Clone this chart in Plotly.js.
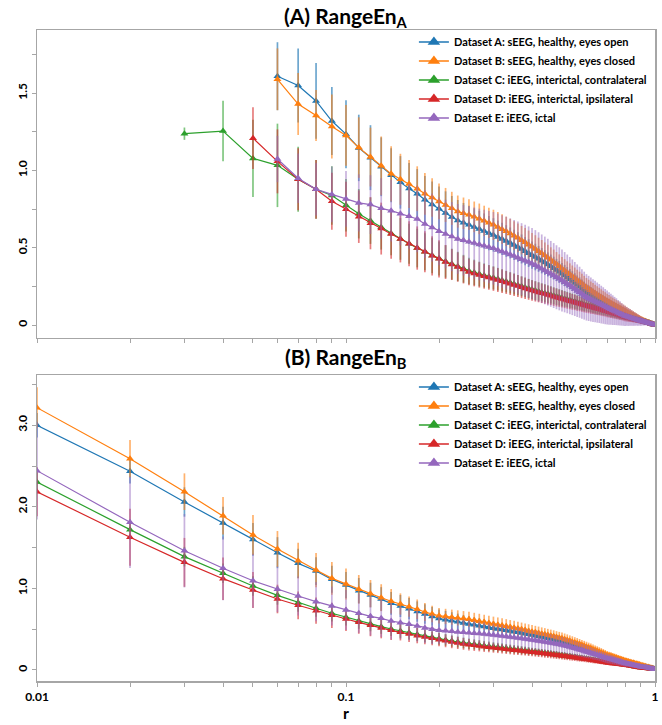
<!DOCTYPE html>
<html><head><meta charset="utf-8">
<script src="https://cdn.plot.ly/plotly-3.0.1.min.js"></script>
<style>html,body{margin:0;padding:0;background:#fff}</style>
</head><body><div id="chart" style="width:662px;height:725px"></div>
<script>
const r = [0.01,0.02,0.03,0.04,0.05,0.06,0.07,0.08,0.09,0.10,
0.11,0.12,0.13,0.14,0.15,0.16,0.17,0.18,0.19,0.20,
0.21,0.22,0.23,0.24,0.25,0.26,0.27,0.28,0.29,0.30,
0.31,0.32,0.33,0.34,0.35,0.36,0.37,0.38,0.39,0.40,
0.41,0.42,0.43,0.44,0.45,0.46,0.47,0.48,0.49,0.50,
0.51,0.52,0.53,0.54,0.55,0.56,0.57,0.58,0.59,0.60,
0.61,0.62,0.63,0.64,0.65,0.66,0.67,0.68,0.69,0.70,
0.71,0.72,0.73,0.74,0.75,0.76,0.77,0.78,0.79,0.80,
0.81,0.82,0.83,0.84,0.85,0.86,0.87,0.88,0.89,0.90,
0.91,0.92,0.93,0.94,0.95,0.96,0.97,0.98,0.99,1.00];

const names = ["Dataset A: sEEG, healthy, eyes open","Dataset B: sEEG, healthy, eyes closed","Dataset C: iEEG, interictal, contralateral","Dataset D: iEEG, interictal, ipsilateral","Dataset E: iEEG, ictal"];
const colors = ["#1f77b4","#ff7f0e","#2ca02c","#d62728","#9467bd"];
const errColors = ["rgba(31,119,180,0.65)","rgba(255,127,14,0.6)","rgba(44,160,44,0.6)","rgba(214,39,40,0.6)","rgba(148,103,189,0.5)"];

const panelTitles = ["(A) RangeEn<sub>A</sub>","(B) RangeEn<sub>B</sub>"];
const xAxisTitle = "r";
const xTickVals = [0.01,0.1,1];
const xTickText = ["0.01","0.1","1"];
const xMinorVals = [0.02,0.03,0.04,0.05,0.06,0.07,0.08,0.09,0.2,0.3,0.4,0.5,0.6,0.7,0.8,0.9];
const yTopTickVals = [0,0.5,1,1.5];
const yTopTickText = ["0","0.5","1.0","1.5"];
const yTopMinorVals = [0.25,0.75,1.25,1.75];
const yBotTickVals = [0,1,2,3];
const yBotTickText = ["0","1.0","2.0","3.0"];
const yBotMinorVals = [0.5,1.5,2.5,3.5];

// Panel A: RangeEn_A
const enA_A = [null,null,null,null,null,1.61,1.55,1.45,1.32,1.235,
1.146,1.083,1.024,0.969,0.923,0.884,0.849,0.810,0.779,0.752,
0.725,0.699,0.677,0.662,0.648,0.635,0.622,0.608,0.595,0.583,
0.570,0.557,0.544,0.531,0.518,0.505,0.492,0.478,0.465,0.452,
0.440,0.428,0.416,0.404,0.392,0.380,0.368,0.356,0.344,0.332,
0.320,0.308,0.296,0.284,0.272,0.260,0.248,0.236,0.224,0.212,
0.203,0.194,0.185,0.177,0.169,0.161,0.153,0.145,0.138,0.131,
0.125,0.119,0.113,0.107,0.101,0.096,0.090,0.085,0.079,0.074,
0.070,0.065,0.061,0.057,0.052,0.048,0.044,0.039,0.035,0.031,
0.028,0.025,0.022,0.019,0.016,0.013,0.010,0.007,0.004,0.000];
const enA_A_err = [0,0,0,0,0,0.22,0.24,0.245,0.22,0.22,
0.215,0.21,0.19,0.175,0.17,0.165,0.16,0.155,0.15,0.145,
0.14,0.136,0.132,0.128,0.124,0.12,0.117,0.114,0.111,0.108,
0.106,0.104,0.102,0.100,0.098,0.096,0.094,0.092,0.090,0.088,
0.086,0.084,0.082,0.080,0.078,0.076,0.074,0.072,0.071,0.070,
0.069,0.067,0.066,0.064,0.063,0.061,0.060,0.058,0.057,0.055,
0.054,0.052,0.051,0.049,0.048,0.046,0.045,0.043,0.042,0.040,
0.039,0.038,0.036,0.035,0.034,0.033,0.031,0.030,0.029,0.028,
0.027,0.025,0.024,0.022,0.021,0.020,0.018,0.017,0.016,0.015,
0.014,0.012,0.011,0.010,0.009,0.007,0.006,0.005,0.003,0.002];

const enA_B = [null,null,null,null,null,1.59,1.43,1.356,1.284,1.227,
1.148,1.087,1.030,0.978,0.943,0.912,0.882,0.849,0.825,0.800,
0.777,0.755,0.734,0.723,0.714,0.700,0.687,0.674,0.661,0.648,
0.634,0.620,0.606,0.592,0.578,0.564,0.549,0.535,0.520,0.506,
0.492,0.478,0.464,0.450,0.436,0.422,0.408,0.394,0.380,0.365,
0.352,0.340,0.328,0.316,0.304,0.292,0.280,0.268,0.256,0.244,
0.234,0.225,0.216,0.207,0.198,0.190,0.181,0.173,0.165,0.157,
0.150,0.143,0.136,0.129,0.123,0.117,0.110,0.104,0.098,0.092,
0.086,0.080,0.075,0.069,0.064,0.058,0.053,0.047,0.042,0.037,
0.033,0.029,0.025,0.021,0.017,0.014,0.010,0.007,0.003,0.000];
const enA_B_err = [0,0,0,0,0,0.20,0.20,0.165,0.207,0.196,
0.196,0.19,0.19,0.178,0.165,0.155,0.145,0.135,0.125,0.115,
0.11,0.107,0.104,0.102,0.100,0.099,0.099,0.098,0.098,0.098,
0.097,0.096,0.095,0.095,0.094,0.093,0.092,0.092,0.091,0.090,
0.089,0.087,0.086,0.084,0.083,0.081,0.080,0.078,0.077,0.075,
0.074,0.072,0.071,0.069,0.068,0.066,0.065,0.063,0.062,0.060,
0.059,0.057,0.056,0.054,0.053,0.051,0.050,0.048,0.047,0.045,
0.044,0.042,0.041,0.040,0.038,0.037,0.036,0.035,0.033,0.032,
0.031,0.029,0.028,0.027,0.025,0.024,0.022,0.021,0.019,0.018,
0.017,0.015,0.014,0.012,0.011,0.009,0.008,0.006,0.005,0.003];

const enA_C = [null,null,1.238,1.255,1.078,1.033,0.943,0.878,0.838,0.775,
0.720,0.675,0.633,0.592,0.557,0.526,0.498,0.474,0.450,0.430,
0.411,0.394,0.379,0.364,0.349,0.340,0.330,0.321,0.313,0.305,
0.297,0.289,0.281,0.273,0.265,0.258,0.250,0.243,0.236,0.229,
0.223,0.217,0.211,0.206,0.200,0.195,0.189,0.184,0.179,0.174,
0.169,0.165,0.160,0.156,0.151,0.146,0.142,0.138,0.133,0.129,
0.125,0.121,0.117,0.113,0.109,0.105,0.101,0.097,0.094,0.090,
0.086,0.082,0.079,0.075,0.071,0.068,0.064,0.061,0.057,0.054,
0.051,0.048,0.045,0.042,0.039,0.037,0.034,0.031,0.029,0.026,
0.024,0.021,0.019,0.016,0.013,0.011,0.008,0.005,0.003,0.000];
const enA_C_err = [0,0,0.04,0.196,0.25,0.27,0.21,0.19,0.19,0.17,
0.16,0.15,0.145,0.14,0.135,0.13,0.125,0.12,0.115,0.11,
0.105,0.1,0.095,0.09,0.086,0.083,0.08,0.078,0.076,0.075,
0.073,0.072,0.07,0.069,0.068,0.066,0.065,0.064,0.063,0.062,
0.061,0.06,0.059,0.058,0.057,0.056,0.055,0.054,0.053,0.052,
0.051,0.05,0.049,0.048,0.047,0.046,0.045,0.044,0.043,0.042,
0.041,0.04,0.039,0.038,0.037,0.036,0.035,0.034,0.033,0.032,
0.031,0.03,0.029,0.028,0.027,0.026,0.025,0.024,0.023,0.022,
0.021,0.02,0.019,0.018,0.017,0.016,0.015,0.014,0.013,0.012,
0.011,0.01,0.009,0.008,0.007,0.006,0.005,0.004,0.003,0.002];

const enA_D = [null,null,null,null,1.209,1.059,0.943,0.878,0.801,0.749,
0.701,0.659,0.624,0.589,0.557,0.526,0.498,0.474,0.448,0.428,
0.408,0.391,0.375,0.359,0.343,0.334,0.324,0.315,0.307,0.299,
0.291,0.283,0.275,0.267,0.259,0.252,0.244,0.237,0.230,0.223,
0.217,0.211,0.205,0.200,0.194,0.189,0.183,0.178,0.173,0.168,
0.163,0.159,0.154,0.150,0.146,0.141,0.137,0.133,0.128,0.124,
0.120,0.116,0.113,0.109,0.105,0.102,0.098,0.094,0.091,0.087,
0.083,0.080,0.076,0.073,0.069,0.066,0.062,0.059,0.055,0.052,
0.049,0.046,0.043,0.041,0.038,0.036,0.033,0.031,0.028,0.026,
0.023,0.021,0.018,0.016,0.013,0.011,0.008,0.005,0.003,0.000];
const enA_D_err = [0,0,0,0,0.2,0.207,0.2,0.19,0.185,0.178,
0.17,0.169,0.168,0.16,0.152,0.145,0.14,0.133,0.127,0.12,
0.11,0.1,0.095,0.09,0.086,0.084,0.082,0.08,0.079,0.078,
0.077,0.076,0.074,0.073,0.072,0.071,0.07,0.069,0.067,0.066,
0.065,0.064,0.063,0.062,0.061,0.06,0.059,0.058,0.056,0.055,
0.054,0.053,0.052,0.051,0.05,0.049,0.048,0.047,0.046,0.045,
0.044,0.043,0.042,0.041,0.04,0.039,0.038,0.037,0.036,0.036,
0.035,0.034,0.033,0.032,0.031,0.03,0.029,0.028,0.027,0.027,
0.026,0.025,0.024,0.022,0.021,0.02,0.019,0.018,0.017,0.016,
0.015,0.013,0.012,0.011,0.01,0.008,0.007,0.006,0.004,0.003];

const enA_E = [null,null,null,null,null,1.074,0.950,0.878,0.845,0.816,
0.790,0.779,0.755,0.740,0.720,0.703,0.686,0.653,0.631,0.607,
0.589,0.572,0.557,0.548,0.539,0.530,0.521,0.513,0.504,0.496,
0.486,0.476,0.466,0.456,0.446,0.436,0.426,0.416,0.407,0.397,
0.386,0.375,0.364,0.353,0.342,0.331,0.320,0.309,0.299,0.288,
0.277,0.266,0.255,0.244,0.233,0.222,0.212,0.201,0.190,0.179,
0.172,0.165,0.158,0.152,0.145,0.139,0.132,0.126,0.119,0.113,
0.107,0.102,0.096,0.091,0.086,0.080,0.075,0.069,0.064,0.059,
0.056,0.052,0.049,0.046,0.042,0.039,0.036,0.033,0.029,0.026,
0.024,0.021,0.019,0.016,0.013,0.011,0.008,0.005,0.003,0.000];
const enA_E_err = [0,0,0,0,0,0.15,0.16,0.17,0.18,0.18,
0.185,0.19,0.195,0.2,0.205,0.21,0.215,0.22,0.22,0.22,
0.222,0.224,0.226,0.228,0.23,0.231,0.232,0.233,0.234,0.235,
0.235,0.235,0.235,0.234,0.234,0.233,0.233,0.232,0.231,0.23,
0.228,0.225,0.222,0.219,0.216,0.213,0.21,0.207,0.204,0.2,
0.195,0.19,0.185,0.18,0.175,0.17,0.165,0.16,0.155,0.15,
0.146,0.142,0.138,0.134,0.13,0.126,0.122,0.118,0.114,0.11,
0.105,0.1,0.096,0.091,0.087,0.082,0.078,0.073,0.069,0.065,
0.061,0.058,0.054,0.051,0.047,0.044,0.04,0.037,0.033,0.03,
0.027,0.024,0.021,0.019,0.016,0.013,0.011,0.008,0.006,0.005];

// Panel B: RangeEn_B
const enB_A = [3.00,2.435,2.059,1.80,1.60,1.438,1.307,1.213,1.111,1.042,
0.972,0.919,0.870,0.817,0.784,0.751,0.716,0.686,0.656,0.630,
0.617,0.604,0.590,0.577,0.564,0.553,0.542,0.532,0.521,0.511,
0.503,0.495,0.487,0.478,0.470,0.462,0.454,0.445,0.437,0.429,
0.421,0.413,0.404,0.396,0.388,0.380,0.372,0.363,0.355,0.347,
0.337,0.327,0.317,0.306,0.296,0.286,0.276,0.265,0.255,0.245,
0.237,0.229,0.220,0.212,0.204,0.196,0.188,0.179,0.171,0.163,
0.157,0.151,0.145,0.139,0.133,0.126,0.120,0.114,0.108,0.102,
0.097,0.091,0.086,0.081,0.076,0.070,0.065,0.060,0.054,0.049,
0.045,0.041,0.037,0.033,0.029,0.025,0.021,0.017,0.013,0.010];
const enB_A_err = [0.15,0.15,0.18,0.2,0.2,0.19,0.18,0.17,0.165,0.16,
0.155,0.15,0.145,0.14,0.135,0.13,0.125,0.12,0.115,0.11,
0.107,0.104,0.101,0.098,0.095,0.093,0.091,0.089,0.087,0.085,
0.084,0.083,0.081,0.080,0.079,0.077,0.076,0.075,0.073,0.072,
0.071,0.070,0.069,0.068,0.067,0.065,0.064,0.063,0.062,0.060,
0.059,0.058,0.057,0.056,0.055,0.053,0.052,0.051,0.050,0.049,
0.048,0.047,0.046,0.045,0.044,0.043,0.042,0.041,0.040,0.040,
0.039,0.038,0.037,0.036,0.035,0.034,0.033,0.032,0.031,0.030,
0.029,0.028,0.027,0.026,0.025,0.024,0.023,0.022,0.021,0.020,
0.019,0.017,0.016,0.014,0.013,0.011,0.010,0.008,0.007,0.005];

const enB_B = [3.215,2.59,2.185,1.891,1.654,1.483,1.340,1.225,1.123,1.054,
0.989,0.935,0.886,0.842,0.809,0.776,0.744,0.711,0.686,0.665,
0.656,0.647,0.638,0.630,0.621,0.610,0.598,0.587,0.575,0.564,
0.555,0.545,0.536,0.526,0.517,0.508,0.498,0.489,0.479,0.470,
0.462,0.454,0.445,0.437,0.429,0.421,0.413,0.404,0.396,0.388,
0.378,0.368,0.357,0.347,0.337,0.327,0.317,0.306,0.296,0.286,
0.276,0.266,0.255,0.245,0.235,0.225,0.215,0.204,0.194,0.184,
0.177,0.170,0.163,0.156,0.149,0.142,0.135,0.128,0.121,0.114,
0.109,0.103,0.098,0.093,0.088,0.082,0.077,0.072,0.066,0.061,
0.056,0.051,0.046,0.041,0.036,0.031,0.026,0.020,0.015,0.010];
const enB_B_err = [0.25,0.23,0.225,0.23,0.245,0.22,0.22,0.21,0.2,0.19,
0.175,0.168,0.165,0.15,0.13,0.125,0.12,0.11,0.1,0.095,
0.094,0.093,0.093,0.092,0.092,0.091,0.091,0.09,0.09,0.09,
0.089,0.088,0.087,0.086,0.085,0.084,0.083,0.082,0.081,0.080,
0.079,0.078,0.077,0.076,0.075,0.074,0.073,0.072,0.071,0.070,
0.069,0.068,0.067,0.066,0.065,0.064,0.063,0.062,0.061,0.060,
0.059,0.058,0.057,0.056,0.055,0.054,0.053,0.052,0.051,0.050,
0.048,0.047,0.045,0.044,0.042,0.041,0.039,0.038,0.036,0.035,
0.034,0.032,0.031,0.030,0.028,0.027,0.026,0.025,0.024,0.022,
0.021,0.019,0.018,0.016,0.014,0.012,0.010,0.008,0.007,0.005];

const enB_C = [2.304,1.72,1.389,1.185,1.029,0.915,0.825,0.756,0.695,0.646,
0.600,0.564,0.531,0.502,0.478,0.455,0.435,0.417,0.400,0.384,
0.369,0.355,0.343,0.332,0.322,0.314,0.306,0.298,0.291,0.284,
0.278,0.272,0.265,0.259,0.254,0.248,0.243,0.238,0.232,0.227,
0.222,0.218,0.213,0.208,0.204,0.199,0.194,0.189,0.185,0.180,
0.176,0.171,0.167,0.163,0.159,0.154,0.150,0.145,0.141,0.137,
0.133,0.128,0.124,0.120,0.116,0.111,0.107,0.103,0.099,0.095,
0.091,0.088,0.085,0.082,0.079,0.076,0.073,0.070,0.067,0.064,
0.061,0.057,0.054,0.050,0.047,0.044,0.040,0.037,0.033,0.030,
0.028,0.026,0.024,0.022,0.020,0.017,0.015,0.013,0.011,0.009];
const enB_C_err = [0.12,0.12,0.12,0.12,0.12,0.115,0.11,0.105,0.1,0.1,
0.095,0.09,0.088,0.086,0.084,0.082,0.08,0.078,0.076,0.074,
0.072,0.07,0.068,0.066,0.064,0.062,0.06,0.059,0.058,0.057,
0.056,0.055,0.054,0.053,0.052,0.051,0.05,0.049,0.048,0.047,
0.046,0.045,0.044,0.043,0.042,0.041,0.04,0.039,0.038,0.038,
0.037,0.036,0.035,0.034,0.034,0.033,0.032,0.031,0.030,0.030,
0.029,0.028,0.027,0.026,0.026,0.025,0.024,0.023,0.022,0.022,
0.021,0.020,0.019,0.018,0.018,0.017,0.016,0.015,0.014,0.014,
0.013,0.012,0.011,0.011,0.010,0.009,0.009,0.008,0.007,0.007,
0.006,0.006,0.005,0.005,0.004,0.004,0.003,0.003,0.002,0.002];

const enB_D = [2.185,1.626,1.319,1.119,0.980,0.870,0.793,0.727,0.670,0.625,
0.584,0.547,0.515,0.486,0.462,0.440,0.421,0.404,0.388,0.372,
0.357,0.343,0.331,0.320,0.310,0.302,0.294,0.286,0.279,0.272,
0.266,0.260,0.254,0.248,0.243,0.238,0.233,0.228,0.222,0.217,
0.213,0.208,0.204,0.199,0.195,0.190,0.186,0.181,0.177,0.172,
0.168,0.164,0.160,0.156,0.152,0.147,0.143,0.139,0.135,0.131,
0.127,0.123,0.119,0.115,0.111,0.106,0.102,0.098,0.094,0.090,
0.087,0.084,0.081,0.078,0.075,0.073,0.070,0.067,0.064,0.061,
0.058,0.055,0.051,0.048,0.045,0.041,0.038,0.035,0.031,0.028,
0.026,0.024,0.022,0.020,0.018,0.016,0.014,0.012,0.010,0.008];
const enB_D_err = [0.3,0.35,0.3,0.26,0.22,0.175,0.17,0.16,0.155,0.147,
0.14,0.133,0.127,0.12,0.1,0.097,0.094,0.09,0.085,0.08,
0.078,0.076,0.074,0.072,0.07,0.068,0.066,0.064,0.062,0.06,
0.059,0.058,0.057,0.056,0.055,0.054,0.053,0.052,0.051,0.05,
0.049,0.049,0.048,0.048,0.047,0.047,0.046,0.046,0.045,0.045,
0.044,0.043,0.043,0.042,0.041,0.040,0.040,0.039,0.038,0.037,
0.037,0.036,0.035,0.034,0.034,0.033,0.032,0.031,0.031,0.030,
0.029,0.029,0.028,0.028,0.027,0.026,0.026,0.025,0.025,0.024,
0.023,0.023,0.022,0.021,0.021,0.020,0.019,0.019,0.018,0.018,
0.016,0.015,0.013,0.012,0.010,0.009,0.008,0.006,0.005,0.004];

const enB_E = [2.443,1.81,1.462,1.246,1.094,0.989,0.907,0.837,0.784,0.735,
0.695,0.658,0.633,0.600,0.580,0.560,0.539,0.515,0.500,0.488,
0.481,0.474,0.467,0.462,0.457,0.451,0.446,0.440,0.435,0.429,
0.423,0.417,0.411,0.405,0.399,0.392,0.386,0.380,0.374,0.368,
0.362,0.356,0.349,0.343,0.337,0.331,0.325,0.318,0.312,0.306,
0.298,0.290,0.282,0.274,0.266,0.257,0.249,0.241,0.233,0.225,
0.217,0.209,0.200,0.192,0.184,0.176,0.168,0.159,0.151,0.143,
0.137,0.131,0.125,0.119,0.113,0.106,0.100,0.094,0.088,0.082,
0.078,0.074,0.070,0.066,0.062,0.057,0.053,0.049,0.045,0.041,
0.038,0.035,0.032,0.029,0.026,0.022,0.019,0.016,0.013,0.010];
const enB_E_err = [0.6,0.56,0.45,0.39,0.33,0.28,0.24,0.24,0.24,0.245,
0.24,0.235,0.23,0.225,0.2,0.195,0.19,0.185,0.18,0.17,
0.167,0.164,0.161,0.158,0.155,0.152,0.149,0.146,0.143,0.14,
0.138,0.136,0.134,0.132,0.13,0.128,0.126,0.124,0.122,0.12,
0.118,0.116,0.114,0.112,0.11,0.108,0.106,0.104,0.102,0.1,
0.098,0.096,0.094,0.092,0.09,0.087,0.085,0.082,0.08,0.077,
0.075,0.072,0.07,0.067,0.065,0.063,0.062,0.061,0.06,0.06,
0.058,0.056,0.054,0.052,0.05,0.048,0.046,0.044,0.042,0.04,
0.038,0.036,0.034,0.033,0.032,0.031,0.030,0.030,0.030,0.030,
0.027,0.024,0.021,0.019,0.016,0.013,0.011,0.008,0.006,0.004];

const topSeries = [enA_A, enA_B, enA_C, enA_D, enA_E];
const topErrs = [enA_A_err, enA_B_err, enA_C_err, enA_D_err, enA_E_err];
const botSeries = [enB_A, enB_B, enB_C, enB_D, enB_E];
const botErrs = [enB_A_err, enB_B_err, enB_C_err, enB_D_err, enB_E_err];

function mk(y, err, i, xa, ya) {
  return {
    x: r, y: y, type: 'scatter', mode: 'lines+markers', name: names[i],
    xaxis: xa, yaxis: ya, showlegend: false,
    line: {color: colors[i], width: 1.2},
    marker: {symbol: 'triangle-up', size: 7, color: colors[i]},
    error_y: {type: 'data', array: err, visible: true, color: errColors[i], thickness: 1.7, width: 0}
  };
}
// legend-only entries (no data drawn) so the key can use a larger marker
function key(i, xa, ya, leg) {
  return {
    x: [null], y: [null], type: 'scatter', mode: 'lines+markers', name: names[i],
    xaxis: xa, yaxis: ya, legend: leg, showlegend: true,
    line: {color: colors[i], width: 1.5},
    marker: {symbol: 'triangle-up', size: 11, color: colors[i]}
  };
}
const traces = [];
for (let i = 0; i < 5; i++) traces.push(mk(topSeries[i], topErrs[i], i, 'x', 'y'));
for (let i = 0; i < 5; i++) traces.push(mk(botSeries[i], botErrs[i], i, 'x2', 'y2'));
for (let i = 0; i < 5; i++) traces.push(key(i, 'x', 'y', 'legend'));
for (let i = 0; i < 5; i++) traces.push(key(i, 'x2', 'y2', 'legend2'));

const FONT = 'Lato, "Open Sans", sans-serif';
const GRAY = '#a6a6a6';
const frame = {showline: true, mirror: true, linecolor: GRAY, linewidth: 1.5,
  ticks: 'outside', ticklen: 4, tickcolor: GRAY, tickwidth: 1,
  showgrid: false, zeroline: false};
const minorStyle = {ticks: 'outside', ticklen: 4, tickcolor: GRAY, tickwidth: 1, showgrid: false};
const tickF = {family: FONT, size: 12, color: '#000', weight: 'bold'};
const legF = {family: FONT, size: 11, color: '#000', weight: 'bold'};
const topDom = [0.5269, 1], botDom = [0, 0.470];

const layout = {
  width: 662, height: 725,
  margin: {l: 37, r: 7, t: 30, b: 44},
  paper_bgcolor: '#fff', plot_bgcolor: '#fff',
  font: {family: FONT, color: '#000'},
  showlegend: true,
  xaxis: Object.assign({}, frame, {type: 'log', range: [-2, 0], anchor: 'y',
    tickmode: 'array', tickvals: xTickVals, ticktext: xTickText, showticklabels: false,
    minor: Object.assign({tickmode: 'array', tickvals: xMinorVals}, minorStyle)}),
  yaxis: Object.assign({}, frame, {domain: topDom, range: [-0.084, 1.909], anchor: 'x',
    tickmode: 'array', tickvals: yTopTickVals, ticktext: yTopTickText, tickangle: -90, tickfont: tickF,
    minor: Object.assign({tickmode: 'array', tickvals: yTopMinorVals}, minorStyle)}),
  xaxis2: Object.assign({}, frame, {type: 'log', range: [-2, 0], anchor: 'y2',
    tickmode: 'array', tickvals: xTickVals, ticktext: xTickText, tickfont: tickF,
    minor: Object.assign({tickmode: 'array', tickvals: xMinorVals}, minorStyle)}),
  yaxis2: Object.assign({}, frame, {domain: botDom, range: [-0.135, 3.615], anchor: 'x2',
    tickmode: 'array', tickvals: yBotTickVals, ticktext: yBotTickText, tickangle: -90, tickfont: tickF,
    minor: Object.assign({tickmode: 'array', tickvals: yBotMinorVals}, minorStyle)}),
  legend: {x: 0.995, xanchor: 'right', y: 1.004, yanchor: 'top', bgcolor: 'rgba(255,255,255,0)',
    font: legF, tracegroupgap: 0},
  legend2: {x: 0.995, xanchor: 'right', y: botDom[1] + 0.004, yanchor: 'top', bgcolor: 'rgba(255,255,255,0)',
    font: legF, tracegroupgap: 0},
  annotations: [
    {text: panelTitles[0], xref: 'paper', yref: 'paper', x: 0.5, y: 1.020, xanchor: 'center', yanchor: 'middle',
     showarrow: false, font: {family: FONT, size: 21, color: '#000', weight: 'bold'}},
    {text: panelTitles[1], xref: 'paper', yref: 'paper', x: 0.5, y: 0.4962, xanchor: 'center', yanchor: 'middle',
     showarrow: false, font: {family: FONT, size: 21, color: '#000', weight: 'bold'}},
    {text: xAxisTitle, xref: 'paper', yref: 'paper', x: 0.5, y: -0.064, xanchor: 'center', yanchor: 'bottom',
     showarrow: false, borderpad: 0, font: {family: FONT, size: 16, color: '#000', weight: 'bold'}}
  ]
};
Plotly.newPlot('chart', traces, layout, {displayModeBar: false, staticPlot: true});
</script>
</body></html>
